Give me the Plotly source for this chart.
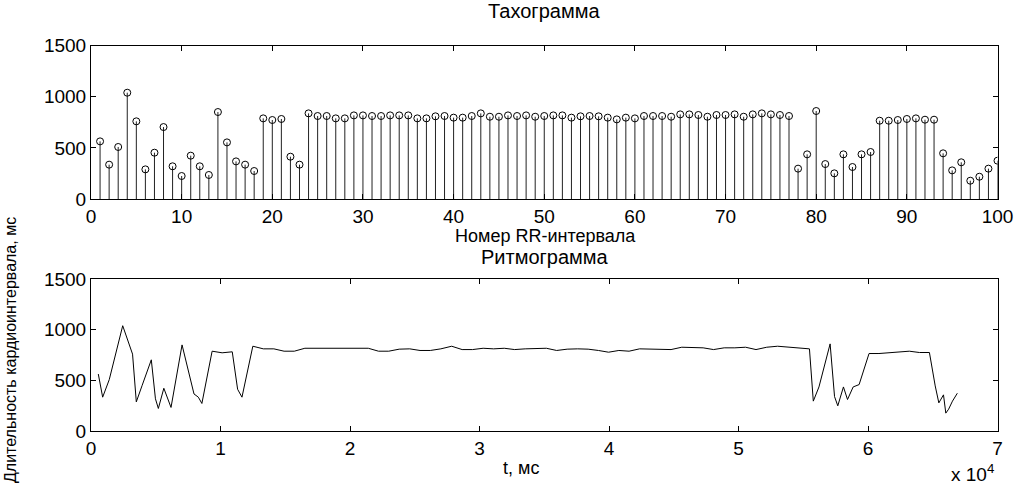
import numpy as np
import plotly.graph_objects as go

# RR intervals, ms
rr = [564, 336, 509, 1040, 760, 290, 453, 704, 320, 225,
      424, 320, 235, 851, 554, 368, 336, 274, 789, 773,
      783, 414, 336, 838, 812, 812, 789, 789, 818, 818,
      812, 812, 818, 818, 818, 789, 789, 809, 812, 796,
      796, 812, 838, 805, 805, 818, 812, 818, 805, 812,
      818, 818, 796, 809, 812, 809, 796, 779, 796, 789,
      812, 812, 812, 805, 828, 828, 822, 805, 822, 822,
      828, 805, 828, 838, 828, 822, 812, 297, 437, 861,
      342, 251, 437, 313, 437, 460, 766, 766, 773, 783,
      789, 776, 776, 447, 280, 359, 179, 218, 297, 375]
idx = list(range(1, len(rr) + 1))
t = np.cumsum(rr).tolist()

x1_ticks = list(range(0, 101, 10))
y_ticks = [0, 500, 1000, 1500]
x2_ticks = [0, 10000, 20000, 30000, 40000, 50000, 60000, 70000]
x2_text = ["0", "1", "2", "3", "4", "5", "6", "7"]

W, H = 1016, 486
FONT = "Liberation Sans, Arial, sans-serif"

def px(x):
    return x / W

def py(y):
    return 1 - y / H

# stems
sx, sy = [], []
for i, v in zip(idx, rr):
    sx += [i, i, None]
    sy += [0, v, None]

fig = go.Figure()
fig.add_trace(go.Scatter(x=sx, y=sy, mode="lines", line=dict(color="#222", width=1),
                         xaxis="x", yaxis="y", hoverinfo="skip", showlegend=False))
fig.add_trace(go.Scatter(x=idx, y=rr, mode="markers",
                         marker=dict(symbol="circle-open", size=7, color="black",
                                     line=dict(width=1, color="black")),
                         xaxis="x", yaxis="y", showlegend=False))
fig.add_trace(go.Scatter(x=t, y=rr, mode="lines", line=dict(color="black", width=1),
                         xaxis="x2", yaxis="y2", showlegend=False))

axis_common = dict(showline=True, linecolor="black", linewidth=1, mirror="allticks",
                   ticks="inside", ticklen=5, tickcolor="black", showgrid=False,
                   zeroline=False, automargin=False,
                   tickfont=dict(family=FONT, size=19, color="black"))

xd = [px(91), px(997.5)]
fig.update_layout(
    width=W, height=H,
    margin=dict(l=0, r=0, t=0, b=0, pad=0),
    paper_bgcolor="white", plot_bgcolor="white",
    xaxis=dict(domain=xd, range=[0, 100], tickvals=x1_ticks, anchor="y", **axis_common),
    yaxis=dict(domain=[py(199), py(45.7)], range=[0, 1500], tickvals=y_ticks, anchor="x", **axis_common),
    xaxis2=dict(domain=xd, range=[0, 70000], tickvals=x2_ticks, ticktext=x2_text, anchor="y2", **axis_common),
    yaxis2=dict(domain=[py(431.3), py(279)], range=[0, 1500], tickvals=y_ticks, anchor="x2", **axis_common),
)

def ann(text, x, y, size, angle=0, xanchor="center"):
    fig.add_annotation(text=text, x=px(x), y=py(y), xref="paper", yref="paper",
                       showarrow=False, textangle=angle, xanchor=xanchor, yanchor="middle",
                       font=dict(family=FONT, size=size, color="black"))

ann("Тахограмма", 544, 11, 20)
ann("Номер RR-интервала", 545, 236, 18)
ann("Ритмограмма", 545, 257, 20)
ann("t, мс", 521, 468, 18)
ann("x 10<sup>4</sup>", 972, 473, 19)
ann("Длительность кардиоинтервала, мс", 10, 350, 16, angle=-90)

fig.write_html("out.html",
               config={"displayModeBar": False},
               post_script="document.body.style.margin='0px';document.body.style.overflow='hidden';")
